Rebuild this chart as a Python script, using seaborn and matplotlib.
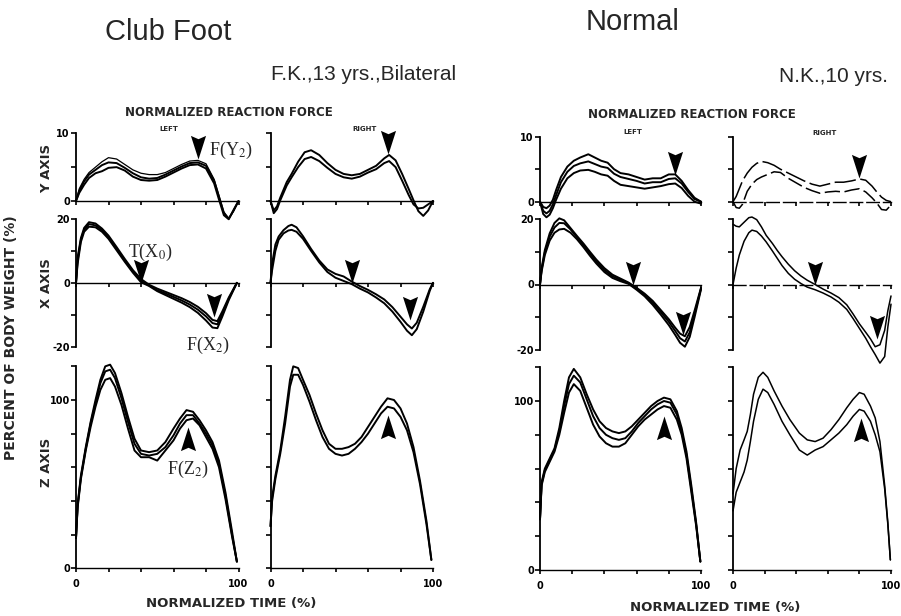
import matplotlib
matplotlib.use("Agg")
import matplotlib.pyplot as plt
import seaborn as sns

sns.set_theme(style="white", rc={
    "axes.edgecolor": "black", "xtick.color": "black", "ytick.color": "black",
    "xtick.bottom": True, "ytick.left": True, "axes.linewidth": 1.1,
})
plt.rcParams["font.family"] = ["DejaVu Sans"]
plt.rcParams["mathtext.fontset"] = "stix"

# ---------------- data (percent of body weight vs normalized time %) -------------
# Club foot, LEFT
cfl_y_t = [0, 2, 5, 8, 12, 16, 20, 25, 30, 35, 40, 45, 50, 55, 60, 65, 70, 75, 80, 85, 88, 91, 94, 97, 100]
cfl_y_a = [0, 1.8, 3.2, 4.2, 5.0, 5.8, 6.4, 6.2, 5.4, 4.6, 4.1, 3.9, 3.9, 4.2, 4.8, 5.4, 5.9, 6.0, 5.5, 3.2, 0.8, -1.6, -2.6, -1.5, 0]
cfl_y_b = [0, 1.5, 2.9, 3.9, 4.6, 5.3, 5.7, 5.6, 4.9, 4.1, 3.5, 3.3, 3.4, 3.9, 4.5, 5.1, 5.6, 5.7, 5.2, 3.0, 0.6, -1.8, -2.6, -1.4, 0]
cfl_y_c = [0, 1.2, 2.4, 3.4, 4.1, 4.4, 4.9, 5.0, 4.5, 3.6, 3.1, 3.0, 3.1, 3.6, 4.2, 4.8, 5.3, 5.4, 4.8, 2.6, 0.2, -2.1, -2.7, -1.3, 0]

cfl_x_t = [0, 1, 3, 5, 8, 12, 16, 20, 25, 30, 35, 40, 45, 50, 55, 60, 65, 70, 75, 80, 84, 87, 90, 94, 99]
cfl_x_a = [0, 8, 14, 17.2, 19.0, 18.6, 17.0, 14.8, 11.2, 7.5, 4.0, 1.2, -0.6, -1.8, -2.8, -3.8, -4.8, -6.0, -7.5, -9.5, -11.6, -12.0, -9.0, -4.6, 0]
cfl_x_b = [0, 7, 13.5, 16.6, 18.4, 18.0, 16.5, 14.2, 10.6, 7.0, 3.6, 0.6, -0.8, -2.3, -3.3, -4.4, -5.5, -6.8, -8.4, -10.5, -12.6, -13.0, -9.8, -5.0, 0]
cfl_x_c = [0, 6, 12.8, 16.0, 17.6, 17.4, 16.0, 13.8, 10.2, 6.6, 3.2, 0.2, -1.0, -2.6, -3.8, -5.0, -6.2, -7.6, -9.4, -11.8, -14.0, -14.2, -10.6, -5.4, 0]

cfl_z_t = [0, 1, 3, 6, 9, 12, 15, 18, 21, 24, 28, 32, 36, 40, 45, 50, 55, 60, 64, 68, 72, 76, 80, 84, 88, 92, 96, 99]
cfl_z_a = [18, 38, 55, 72, 87, 100, 112, 120, 121, 116, 104, 90, 77, 70, 69, 70, 75, 83, 89, 94, 93, 88, 82, 75, 64, 45, 22, 4]
cfl_z_b = [18, 37, 54, 71, 86, 98, 110, 117, 118, 113, 101, 87, 74, 68, 67, 68, 72, 79, 86, 91, 91, 86, 80, 73, 62, 43, 20, 4]
cfl_z_c = [18, 36, 53, 70, 84, 96, 106, 112, 113, 108, 97, 83, 70, 66, 66, 64, 70, 76, 83, 88, 89, 85, 78, 71, 60, 41, 19, 4]

# Club foot, RIGHT
cfr_y_t = [0, 2, 4, 6, 10, 13, 17, 21, 25, 30, 35, 40, 45, 50, 55, 60, 65, 70, 73, 77, 81, 85, 88, 91, 94, 97, 100]
cfr_y_a = [0, -1.4, -0.8, 0.5, 2.8, 4.0, 5.8, 7.2, 7.5, 6.8, 5.6, 4.6, 4.0, 3.8, 4.0, 4.6, 5.2, 6.3, 6.8, 6.0, 4.0, 1.8, 0.1, -1.5, -2.2, -1.4, 0]
cfr_y_b = [0, -1.8, -1.2, 0.1, 2.3, 3.5, 5.0, 6.2, 6.5, 5.9, 4.9, 4.0, 3.5, 3.3, 3.6, 4.2, 4.7, 5.6, 5.9, 5.0, 3.0, 0.9, -0.5, -1.1, -1.0, -0.5, 0]

cfr_x_t = [0, 1, 3, 5, 8, 11, 13, 16, 20, 25, 30, 35, 40, 45, 50, 55, 60, 65, 70, 75, 80, 84, 87, 90, 94, 98, 100]
cfr_x_a = [0, 6, 12, 14.5, 16.5, 17.8, 18.2, 17.4, 14.6, 10.6, 7.0, 4.2, 2.8, 2.0, 0.4, -1.0, -2.2, -3.6, -5.2, -7.6, -10.6, -13.0, -14.3, -12.5, -7.5, -2.0, 0]
cfr_x_b = [0, 4, 10, 13.5, 15.5, 16.4, 16.6, 16.0, 13.8, 10.0, 6.4, 3.4, 1.6, 0.6, -0.4, -1.8, -3.0, -4.6, -6.4, -9.0, -12.2, -15.0, -16.4, -14.5, -9.0, -2.5, 0]

cfr_z_t = [0, 1, 3, 6, 9, 12, 14, 17, 20, 24, 28, 32, 36, 40, 44, 48, 52, 56, 60, 64, 68, 72, 76, 80, 84, 88, 92, 96, 99]
cfr_z_a = [25, 42, 55, 70, 90, 112, 120, 119, 112, 103, 92, 82, 74, 71, 71, 72, 74, 78, 84, 90, 96, 101, 100, 95, 86, 72, 52, 28, 5]
cfr_z_b = [25, 40, 53, 68, 86, 108, 115, 115, 109, 99, 88, 78, 71, 68, 67, 68, 71, 75, 80, 86, 92, 96, 95, 90, 82, 69, 50, 26, 5]

# Normal, LEFT
nl_y_t = [0, 2, 4, 6, 8, 10, 13, 17, 21, 25, 30, 34, 38, 42, 46, 50, 55, 60, 65, 70, 75, 80, 84, 88, 92, 96, 100]
nl_y_a = [0, -0.8, -1.0, -0.6, 0.3, 1.8, 3.8, 5.4, 6.3, 6.8, 7.3, 6.8, 6.3, 6.0, 5.0, 4.4, 4.2, 3.8, 3.4, 3.6, 3.6, 4.2, 4.2, 3.2, 1.8, 0.6, 0]
nl_y_b = [0, -1.4, -1.8, -1.4, -0.4, 1.0, 3.0, 4.6, 5.5, 5.9, 6.2, 5.8, 5.4, 5.2, 4.3, 3.8, 3.5, 3.2, 2.8, 3.0, 3.0, 3.5, 3.6, 2.8, 1.5, 0.4, 0]
nl_y_c = [0, -1.9, -2.4, -2.0, -1.0, 0.3, 2.0, 3.6, 4.4, 4.8, 4.9, 4.6, 4.2, 4.0, 3.2, 2.6, 2.4, 2.2, 2.0, 2.2, 2.4, 2.7, 2.8, 2.1, 0.9, 0.0, -0.3]

nl_x_t = [0, 1, 3, 6, 9, 12, 15, 19, 23, 27, 31, 35, 40, 45, 50, 55, 60, 65, 70, 75, 80, 84, 87, 90, 93, 96, 100]
nl_x_a = [0, 5, 10.5, 15.6, 18.8, 20.2, 19.6, 17.2, 14.8, 12.5, 10.0, 7.6, 5.0, 3.0, 1.8, 0.6, -1.0, -2.8, -5.0, -7.8, -10.6, -13.2, -15.0, -15.8, -13.0, -8.0, -1.0]
nl_x_b = [0, 4.5, 9.8, 14.6, 17.4, 18.8, 18.7, 16.8, 14.4, 12.0, 9.5, 7.0, 4.4, 2.5, 1.4, 0.4, -1.3, -3.2, -5.6, -8.4, -11.4, -14.2, -16.4, -17.4, -14.6, -9.0, -1.2]
nl_x_c = [0, 4, 9, 13.4, 15.8, 16.8, 17.0, 15.8, 13.8, 11.4, 8.8, 6.4, 3.8, 2.0, 1.0, 0.2, -1.6, -3.6, -6.2, -9.2, -12.4, -15.4, -17.8, -19.0, -16.0, -10.0, -1.5]

nl_z_t = [0, 1, 3, 6, 9, 12, 15, 18, 21, 25, 29, 33, 37, 41, 45, 49, 53, 57, 61, 65, 69, 73, 77, 81, 85, 88, 91, 94, 97, 99.6]
nl_z_a = [30, 52, 60, 66, 72, 84, 100, 114, 119, 114, 104, 95, 88, 84, 82, 81, 82, 85, 89, 93, 97, 100, 102, 101, 94, 84, 70, 50, 28, 5]
nl_z_b = [30, 51, 59, 65, 71, 82, 97, 110, 115, 111, 101, 91, 84, 80, 78, 77, 78, 82, 87, 91, 95, 98, 100, 99, 92, 82, 68, 48, 27, 5]
nl_z_c = [30, 50, 58, 64, 70, 80, 93, 105, 110, 106, 96, 86, 79, 75, 73, 73, 75, 80, 85, 89, 92, 95, 97, 96, 89, 80, 66, 46, 26, 5]

# Normal, RIGHT
nr_y_t = [0, 2, 4, 6, 9, 12, 15, 18, 22, 26, 30, 35, 40, 45, 50, 55, 60, 65, 70, 75, 80, 84, 88, 91, 94, 97, 100]
nr_y_a = [0, 0.8, 2.0, 3.2, 4.4, 5.3, 5.9, 6.2, 6.0, 5.6, 5.0, 4.4, 3.8, 3.2, 2.7, 2.4, 2.7, 3.0, 3.0, 3.2, 3.5, 3.3, 2.4, 1.5, 0.7, 0.2, 0]
nr_y_b = [0, -0.9, -1.0, -0.4, 1.6, 2.7, 3.4, 3.8, 4.2, 4.6, 4.5, 3.6, 2.9, 2.2, 1.7, 1.3, 1.5, 1.6, 1.5, 1.8, 2.0, 1.5, 0.6, -0.2, -1.2, -1.3, -0.5]

nr_x_t = [0, 2, 4, 7, 10, 12, 15, 18, 21, 25, 28, 31, 35, 39, 43, 47, 52, 57, 62, 67, 72, 76, 80, 84, 87, 90, 93, 96, 98, 100]
nr_x_a = [18.4, 17.8, 17.6, 19.0, 20.4, 20.6, 19.8, 17.6, 15.0, 12.5, 10.4, 8.5, 6.2, 4.2, 2.6, 1.3, 0.0, -1.4, -2.6, -4.0, -6.2, -9.0, -12.0, -14.6, -16.6, -19.0, -18.4, -14.0, -8.0, -3.5]
nr_x_b = [0, 5.0, 9.0, 13.2, 15.8, 16.6, 16.2, 14.8, 13.0, 10.2, 8.0, 5.8, 3.4, 1.6, 0.3, -0.8, -1.6, -2.6, -3.8, -5.4, -7.6, -10.4, -13.4, -16.4, -19.0, -21.4, -24.0, -22.0, -13.0, -6.0]

nr_z_t = [0, 2, 4.5, 7, 9, 11, 13, 16, 19, 22, 26, 31, 36, 42, 47, 52, 57, 62, 67, 72, 76, 80, 83, 87, 90, 93, 96, 98, 99.6]
nr_z_a = [45, 60, 71, 77, 82, 92, 104, 114, 117, 114, 106, 97, 89, 81, 77, 76, 78, 83, 89, 96, 101, 105, 104, 97, 90, 76, 50, 28, 6]
nr_z_b = [35, 46, 52, 58, 65, 76, 88, 101, 107, 105, 98, 88, 80, 71, 68, 71, 73, 77, 81, 86, 91, 95, 94, 88, 80, 70, 48, 27, 6]

# arrowheads: (time, value) of the tip
cfl_arrows_y = ([75], [6.2]); cfl_arrows_x = ([40, 85], [0, -10.7]); cfl_arrows_z = ([69], [84])
cfr_arrows_y = ([72], [7.0]); cfr_arrows_x = ([50, 86], [0, -11.7]); cfr_arrows_z = ([72], [91])
nl_arrows_y = ([84], [4.1]); nl_arrows_x = ([58, 89], [0, -15.5]); nl_arrows_z = ([77], [91])
nr_arrows_y = ([80], [3.6]); nr_arrows_x = ([52, 91], [0, -16.5]); nr_arrows_z = ([81], [90])

# ---------------- layout -------------
W, H = 901, 616
fig = plt.figure(figsize=(W / 100, H / 100), dpi=100)

# pixel geometry of each row: (value a, pixel a, value b, pixel b, ylim)
rows_cf = {"y": (10, 133.3, 0, 201.0, (-3.2, 10.5)),
           "x": (20, 219.0, -20, 346.7, (-21, 21)),
           "z": (0, 568.3, 100, 400.0, (-1, 123))}
rows_n = {"y": (10, 136.7, 0, 201.7, (-3.2, 10.5)),
          "x": (20, 219.0, -20, 350.0, (-25, 21)),
          "z": (0, 570.0, 100, 401.0, (-1, 123))}
spine_bounds = {"y": (0, 10), "x": (-20, 20), "z": (0, 120)}
yticks = {"y": [0, 5, 10], "x": [-20, -10, 0, 10, 20], "z": [0, 20, 40, 60, 80, 100, 120]}
ylabels = {"y": {0: "0", 10: "10"}, "x": {20: "20", 0: "0", -20: "-20"}, "z": {0: "0", 100: "100"}}

DOWN = [(-0.32, 1.0), (0.0, 0.86), (0.32, 1.0), (0.0, 0.0), (-0.32, 1.0)]
UP = [(-0.32, -1.0), (0.0, -0.86), (0.32, -1.0), (0.0, 0.0), (-0.32, -1.0)]


def add_panel(x0, x1, geom):
    va, pa, vb, pb, (lo, hi) = geom
    s = (pb - pa) / (vb - va)
    top = pa + (hi - va) * s
    bot = pa + (lo - va) * s
    ax = fig.add_axes([x0 / W, 1 - bot / H, (x1 - x0) / W, (bot - top) / H])
    ax.set_xlim(0, 100)
    ax.set_ylim(lo, hi)
    ax.patch.set_alpha(0)
    return ax


def style(ax, kind, labels, zero_dashed=False):
    ax.spines["top"].set_visible(False)
    ax.spines["right"].set_visible(False)
    ax.spines["left"].set_bounds(*spine_bounds[kind])
    ax.spines["left"].set_linewidth(1.3)
    ax.spines["bottom"].set_position(("data", 0))
    ax.spines["bottom"].set_bounds(0, 100)
    ax.spines["bottom"].set_linewidth(1.0)
    if zero_dashed:
        ax.spines["bottom"].set_linestyle((0, (9, 3)))
    ax.set_yticks(yticks[kind])
    ax.set_yticklabels([ylabels[kind].get(v, "") if labels else "" for v in yticks[kind]])
    ax.set_xticks([0, 20, 40, 60, 80, 100])
    if kind == "z":
        ax.set_xticklabels(["0", "", "", "", "", "100"])
    else:
        ax.set_xticklabels([""] * 6)
    ax.tick_params(axis="y", direction="out", length=3.5, width=1.2, pad=1,
                   labelsize=7)
    ax.tick_params(axis="x", direction="out", length=3, width=1.2, pad=5,
                   labelsize=7)
    for lab in ax.get_xticklabels() + ax.get_yticklabels():
        lab.set_fontweight("bold")
    ax.set_xlabel("")
    ax.set_ylabel("")


def curves(ax, t, series, lws=None, dashes=None):
    for i, v in enumerate(series):
        lw = lws[i] if lws else 1.4
        ls = dashes[i] if dashes else "-"
        sns.lineplot(x=t, y=v, ax=ax, color="black", lw=lw, ls=ls,
                     estimator=None, sort=False)
        ax.lines[-1].set_clip_on(False)


def arrows(ax, pts, up=False):
    ax.plot(pts[0], pts[1], ls="none", marker=UP if up else DOWN, ms=34,
            color="black", mec="black", mew=0, clip_on=False, zorder=5)


blocks = [
    # (x0, x100, rows, data dict, labels?, zero dashed?)
    (76.0, 238.5, rows_cf, {
        "y": (cfl_y_t, [cfl_y_a, cfl_y_b, cfl_y_c], [0.9, 1.4, 1.4], None, cfl_arrows_y),
        "x": (cfl_x_t, [cfl_x_a, cfl_x_b, cfl_x_c], None, None, cfl_arrows_x),
        "z": (cfl_z_t, [cfl_z_a, cfl_z_b, cfl_z_c], None, None, cfl_arrows_z)}, True, False),
    (270.5, 433.0, rows_cf, {
        "y": (cfr_y_t, [cfr_y_a, cfr_y_b], None, None, cfr_arrows_y),
        "x": (cfr_x_t, [cfr_x_a, cfr_x_b], None, None, cfr_arrows_x),
        "z": (cfr_z_t, [cfr_z_a, cfr_z_b], None, None, cfr_arrows_z)}, False, False),
    (540.0, 701.0, rows_n, {
        "y": (nl_y_t, [nl_y_a, nl_y_b, nl_y_c], None, None, nl_arrows_y),
        "x": (nl_x_t, [nl_x_a, nl_x_b, nl_x_c], None, None, nl_arrows_x),
        "z": (nl_z_t, [nl_z_a, nl_z_b, nl_z_c], None, None, nl_arrows_z)}, True, False),
    (733.0, 891.0, rows_n, {
        "y": (nr_y_t, [nr_y_a, nr_y_b], [1.1, 1.1], [(0, (14, 3)), (0, (10, 3))], nr_arrows_y),
        "x": (nr_x_t, [nr_x_a, nr_x_b], [1.1, 1.1], None, nr_arrows_x),
        "z": (nr_z_t, [nr_z_a, nr_z_b], [1.1, 1.1], None, nr_arrows_z)}, False, True),
]

axes = {}
for bi, (x0, x1, rows, data, labels, zd) in enumerate(blocks):
    for kind in ["y", "x", "z"]:
        ax = add_panel(x0, x1, rows[kind])
        t, ser, lws, dsh, arr = data[kind]
        curves(ax, t, ser, lws, dsh)
        arrows(ax, arr, up=(kind == "z"))
        style(ax, kind, labels, zero_dashed=(zd and kind != "z"))
        axes[(bi, kind)] = ax

# ---------------- text -------------
def ftext(x, y, s, **kw):
    fig.text(x / W, 1 - y / H, s, **kw)

sans = ["Liberation Sans", "DejaVu Sans"]
ftext(168, 32, "Club Foot", fontsize=21, family=sans, ha="center", va="center")
ftext(633, 22, "Normal", fontsize=21, family=sans, ha="center", va="center")
ftext(456, 75, "F.K.,13 yrs.,Bilateral", fontsize=15, family=sans, ha="right", va="center")
ftext(888, 77, "N.K.,10 yrs.", fontsize=15, family=sans, ha="right", va="center")

plot_font = dict(family=["DejaVu Sans"], fontweight="bold")
ftext(229, 112, "NORMALIZED REACTION FORCE", fontsize=8.5, ha="center", va="center", **plot_font)
ftext(692, 115, "NORMALIZED REACTION FORCE", fontsize=8.5, ha="center", va="center", **plot_font)
ftext(169, 129, "LEFT", fontsize=5, ha="center", va="center", **plot_font)
ftext(365, 129, "RIGHT", fontsize=5, ha="center", va="center", **plot_font)
ftext(633, 132, "LEFT", fontsize=5, ha="center", va="center", **plot_font)
ftext(825, 133, "RIGHT", fontsize=5, ha="center", va="center", **plot_font)
ftext(231, 603, "NORMALIZED TIME (%)", fontsize=9.5, ha="center", va="center", **plot_font)
ftext(715, 607, "NORMALIZED TIME (%)", fontsize=9.5, ha="center", va="center", **plot_font)
ftext(11, 338, "PERCENT OF BODY WEIGHT (%)", fontsize=10, rotation=90, ha="center", va="center", **plot_font)
ftext(47, 168, "Y AXIS", fontsize=9.5, rotation=90, ha="center", va="center", **plot_font)
ftext(47, 283, "X AXIS", fontsize=9.5, rotation=90, ha="center", va="center", **plot_font)
ftext(47, 462, "Z AXIS", fontsize=9.5, rotation=90, ha="center", va="center", **plot_font)

serif = dict(fontsize=13, family=["Liberation Serif", "DejaVu Serif"])
axes[(0, "y")].text(82, 7.4, r"F(Y$_2$)", ha="left", va="center", **serif)
axes[(0, "x")].text(46, 9.6, r"T(X$_0$)", ha="center", va="center", **serif)
axes[(0, "x")].text(81, -19.5, r"F(X$_2$)", ha="center", va="center", **serif)
axes[(0, "z")].text(69, 59, r"F(Z$_2$)", ha="center", va="center", **serif)

fig.savefig("out.png", dpi=100, facecolor="white")
